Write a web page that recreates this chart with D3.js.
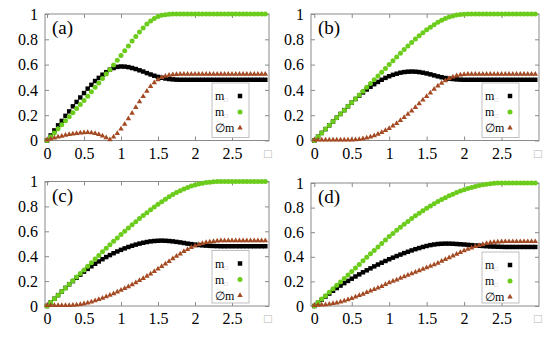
<!DOCTYPE html>
<html>
    <head>
        <meta charset="utf-8">
        <title>m1 m2 dm panels</title>
        <style>
body {
    margin: 0;
    background-color: white;
}

svg {
    display: block;
}

svg text {
    font-family: "Liberation Serif", "Times New Roman", serif !important;
}

.frame {
    fill: none;
    stroke: #8a8a8a;
    stroke-width: 1;
}

.tick line {
    stroke: #8a8a8a;
}

.tick text {
    font-size: 16px;
    fill: #000;
}
</style>
        <script src="https://cdn.jsdelivr.net/npm/d3@7"></script>
    </head>
    <body>
        <script>
var width = 550,
    height = 337;

// x grid
var xs = [0,0.05,0.1,0.15,0.2,0.25,0.3,0.35,0.4,0.45,
          0.5,0.55,0.6,0.65,0.7,0.75,0.8,0.85,0.9,0.95,
          1,1.05,1.1,1.15,1.2,1.25,1.3,1.35,1.4,1.45,
          1.5,1.55,1.6,1.65,1.7,1.75,1.8,1.85,1.9,1.95,
          2,2.05,2.1,2.15,2.2,2.25,2.3,2.35,2.4,2.45,
          2.5,2.55,2.6,2.65,2.7,2.75,2.8,2.85,2.9,2.95];

var xTicks = [0, 0.5, 1, 1.5, 2, 2.5];
var yTicks = [0, 0.2, 0.4, 0.6, 0.8, 1];

// panel (a)
var m1a = [0,.04,.08,.12,.155,.195,.23,.27,.305,.34,
           .375,.41,.44,.47,.495,.52,.54,.56,.573,.582,
           .585,.584,.58,.573,.565,.555,.545,.533,.522,.512,
           .503,.496,.49,.486,.483,.481,.48,.48,.48,.48,
           .48,.48,.48,.48,.48,.48,.48,.48,.48,.48,
           .48,.48,.48,.48,.48,.48,.48,.48,.48,.48];
var m2a = [0,.03,.06,.092,.124,.156,.188,.22,.252,.284,
           .316,.35,.385,.42,.455,.49,.525,.56,.597,.634,
           .672,.71,.748,.786,.823,.858,.89,.92,.945,.965,
           .98,.99,.995,.998,1,1,1,1,1,1,
           1,1,1,1,1,1,1,1,1,1,
           1,1,1,1,1,1,1,1,1,1];
var dma = [0,.008,.016,.024,.031,.038,.044,.049,.053,.056,
           .058,.059,.057,.052,.044,.033,.018,.002,.024,.052,
           .087,.126,.168,.213,.258,.303,.345,.387,.423,.453,
           .477,.494,.505,.512,.517,.519,.52,.52,.52,.52,
           .52,.52,.52,.52,.52,.52,.52,.52,.52,.52,
           .52,.52,.52,.52,.52,.52,.52,.52,.52,.52];

// panel (b)
var m1b = [0,.03,.06,.09,.12,.15,.18,.21,.24,.27,
           .3,.328,.355,.38,.403,.425,.445,.463,.48,.495,
           .508,.519,.528,.536,.541,.544,.545,.544,.541,.536,
           .53,.523,.515,.507,.5,.494,.489,.486,.483,.481,
           .48,.48,.48,.48,.48,.48,.48,.48,.48,.48,
           .48,.48,.48,.48,.48,.48,.48,.48,.48,.48];
var m2b = [0,.03,.06,.09,.12,.15,.18,.21,.24,.27,
           .3,.33,.36,.39,.42,.45,.48,.51,.54,.57,
           .6,.63,.66,.69,.72,.748,.775,.802,.828,.852,
           .875,.896,.916,.934,.95,.964,.976,.985,.992,.996,
           .998,1,1,1,1,1,1,1,1,1,
           1,1,1,1,1,1,1,1,1,1];
var dmb = [0,0,0,0,0,0,0,0,0,0,
           0,.002,.005,.01,.017,.025,.035,.047,.06,.075,
           .092,.111,.132,.154,.179,.204,.23,.258,.287,.316,
           .345,.373,.401,.427,.45,.47,.487,.499,.509,.515,
           .518,.52,.52,.52,.52,.52,.52,.52,.52,.52,
           .52,.52,.52,.52,.52,.52,.52,.52,.52,.52];

// panel (c)
var m1c = [0,.029,.058,.087,.116,.145,.174,.2,.227,.252,
           .276,.298,.319,.339,.358,.376,.393,.409,.424,.438,
           .451,.463,.474,.484,.493,.501,.508,.514,.519,.522,
           .524,.525,.524,.522,.519,.515,.511,.506,.501,.497,
           .493,.49,.487,.485,.483,.482,.481,.48,.48,.48,
           .48,.48,.48,.48,.48,.48,.48,.48,.48,.48];
var m2c = [0,.029,.058,.087,.116,.145,.174,.203,.232,.261,
           .29,.319,.348,.377,.406,.435,.464,.492,.52,.547,
           .574,.6,.626,.652,.677,.702,.726,.75,.773,.795,
           .817,.838,.858,.877,.895,.911,.926,.94,.952,.963,
           .972,.98,.986,.991,.994,.997,.999,1,1,1,
           1,1,1,1,1,1,1,1,1,1];
var dmc = [0,0,0,0,0,0,0,.003,.005,.009,
           .014,.021,.029,.038,.048,.059,.071,.083,.096,.109,
           .123,.137,.152,.168,.184,.201,.218,.236,.254,.273,
           .293,.313,.334,.355,.376,.396,.415,.434,.451,.466,
           .479,.49,.499,.506,.511,.515,.518,.52,.52,.52,
           .52,.52,.52,.52,.52,.52,.52,.52,.52,.52];

// panel (d)
var m1d = [0,.026,.052,.077,.101,.124,.146,.166,.186,.204,
           .222,.24,.257,.274,.29,.306,.322,.337,.352,.366,
           .38,.393,.406,.418,.43,.441,.452,.462,.471,.48,
           .488,.495,.5,.504,.506,.507,.507,.506,.504,.502,
           .5,.497,.495,.492,.49,.488,.486,.484,.483,.482,
           .481,.48,.48,.48,.48,.48,.48,.48,.48,.48];
var m2d = [0,.028,.056,.084,.112,.14,.168,.196,.224,.252,
           .28,.309,.338,.367,.396,.424,.452,.48,.508,.537,
           .565,.59,.615,.64,.664,.688,.711,.733,.755,.775,
           .795,.814,.832,.849,.866,.881,.896,.909,.922,.934,
           .945,.955,.964,.972,.979,.985,.99,.994,.997,.999,
           1,1,1,1,1,1,1,1,1,1];
var dmd = [0,.002,.004,.007,.011,.016,.022,.03,.038,.048,
           .058,.069,.081,.093,.106,.118,.13,.143,.156,.171,
           .185,.197,.209,.222,.234,.247,.259,.271,.284,.295,
           .307,.319,.332,.345,.36,.374,.389,.403,.418,.432,
           .445,.458,.469,.48,.489,.497,.504,.51,.514,.517,
           .519,.52,.52,.52,.52,.52,.52,.52,.52,.52];

var black = "#000000",
    green = "#6ccc1c",
    brown = "#a44a22";

// where each panel sits on the page
var panels = [
    {label: "(a)", m1: m1a, m2: m2a, dm: dma, left: 45,  right: 269, top: 14,    bottom: 140.5, xmin: -0.027},
    {label: "(b)", m1: m1b, m2: m2b, dm: dmb, left: 311, right: 539, top: 14,    bottom: 140.5, xmin: -0.044},
    {label: "(c)", m1: m1c, m2: m2c, dm: dmc, left: 45,  right: 269, top: 181.5, bottom: 306,   xmin: -0.027},
    {label: "(d)", m1: m1d, m2: m2d, dm: dmd, left: 311, right: 539, top: 183,   bottom: 306,   xmin: -0.044}
];

var svg = d3.select('body')
    .append('svg')
    .attr('width', width)
    .attr('height', height);

var square = d3.symbol().type(d3.symbolSquare).size(20);
var triangle = d3.symbol().type(d3.symbolTriangle).size(13);

var fmt = function (d) { return d3.format("")(d); };

var plain = function (s) {
    s.attr("font-size", null);
    s.select(".domain").remove();
};

panels.forEach(function (p) {
    var x = d3.scaleLinear().domain([p.xmin, 3]).range([p.left, p.right]);
    var y = d3.scaleLinear().domain([0, 1]).range([p.bottom, p.top]);

    var g = svg.append("g");

    // axes, ticks pointing inward
    g.append("g")
        .attr("transform", "translate(0," + p.bottom + ")")
        .call(d3.axisBottom(x).tickValues(xTicks).tickFormat(fmt).tickSize(-4).tickPadding(7))
        .call(plain);

    g.append("g")
        .attr("transform", "translate(0," + p.top + ")")
        .call(d3.axisTop(x).tickValues(xTicks).tickFormat("").tickSize(-4))
        .call(plain);

    g.append("g")
        .attr("transform", "translate(" + p.left + ",0)")
        .call(d3.axisLeft(y).tickValues(yTicks).tickFormat(fmt).tickSize(-4).tickPadding(7))
        .call(plain);

    g.append("g")
        .attr("transform", "translate(" + p.right + ",0)")
        .call(d3.axisRight(y).tickValues(yTicks).tickFormat("").tickSize(-4))
        .call(plain);

    // x axis label (a glyph that did not render in the original)
    g.append("text")
        .attr("x", x(3) - 1)
        .attr("y", p.bottom + 17)
        .attr("text-anchor", "middle")
        .attr("font-style", "italic")
        .attr("font-size", 13)
        .attr("fill", "#b5b5b5")
        .text("\u25A1");

    g.append("rect")
        .attr("class", "frame")
        .attr("x", p.left)
        .attr("y", p.top)
        .attr("width", p.right - p.left)
        .attr("height", p.bottom - p.top);

    // series
    g.append("g").selectAll("path")
        .data(p.m1)
        .enter().append("path")
        .attr("d", square)
        .attr("transform", function (d, i) { return "translate(" + x(xs[i]) + "," + y(d) + ")"; })
        .attr("fill", black);

    g.append("g").selectAll("circle")
        .data(p.m2)
        .enter().append("circle")
        .attr("cx", function (d, i) { return x(xs[i]); })
        .attr("cy", function (d) { return y(d); })
        .attr("r", 2.5)
        .attr("fill", green);

    g.append("g").selectAll("path")
        .data(p.dm)
        .enter().append("path")
        .attr("d", triangle)
        .attr("transform", function (d, i) { return "translate(" + x(xs[i]) + "," + (y(d) - 0.5) + ")"; })
        .attr("fill", brown);

    // panel label
    g.append("text")
        .attr("x", p.left + 7)
        .attr("y", p.top + 20)
        .attr("font-size", 19)
        .text(p.label);

    // legend
    var lx = p.right - 57,
        ly = p.top + 69;

    var leg = g.append("g");
    leg.append("rect")
        .attr("x", lx)
        .attr("y", ly)
        .attr("width", 37)
        .attr("height", p.bottom - ly - 3)
        .attr("fill", "white")
        .attr("stroke", "#b0b0b0")
        .attr("stroke-width", 0.8);

    var rows = [
        {name: "m", sub: true, cy: 13},
        {name: "m", sub: true, cy: 29},
        {name: "\u2205m", sub: false, cy: 45}
    ];

    rows.forEach(function (r) {
        var t = leg.append("text")
            .attr("x", lx + 3)
            .attr("y", ly + r.cy + 4)
            .attr("font-size", 12)
            .text(r.name);
        if (r.sub) {
            t.append("tspan")
                .attr("dy", 2)
                .attr("font-size", 6)
                .attr("fill", "#b5b5b5")
                .text("\u25A1");
        }
    });

    leg.append("path")
        .attr("d", square)
        .attr("transform", "translate(" + (lx + 28) + "," + (ly + rows[0].cy) + ")")
        .attr("fill", black);
    leg.append("circle")
        .attr("cx", lx + 28)
        .attr("cy", ly + rows[1].cy)
        .attr("r", 2.5)
        .attr("fill", green);
    leg.append("path")
        .attr("d", triangle)
        .attr("transform", "translate(" + (lx + 28) + "," + (ly + rows[2].cy) + ")")
        .attr("fill", brown);
});

        </script>
    </body>
</html>
